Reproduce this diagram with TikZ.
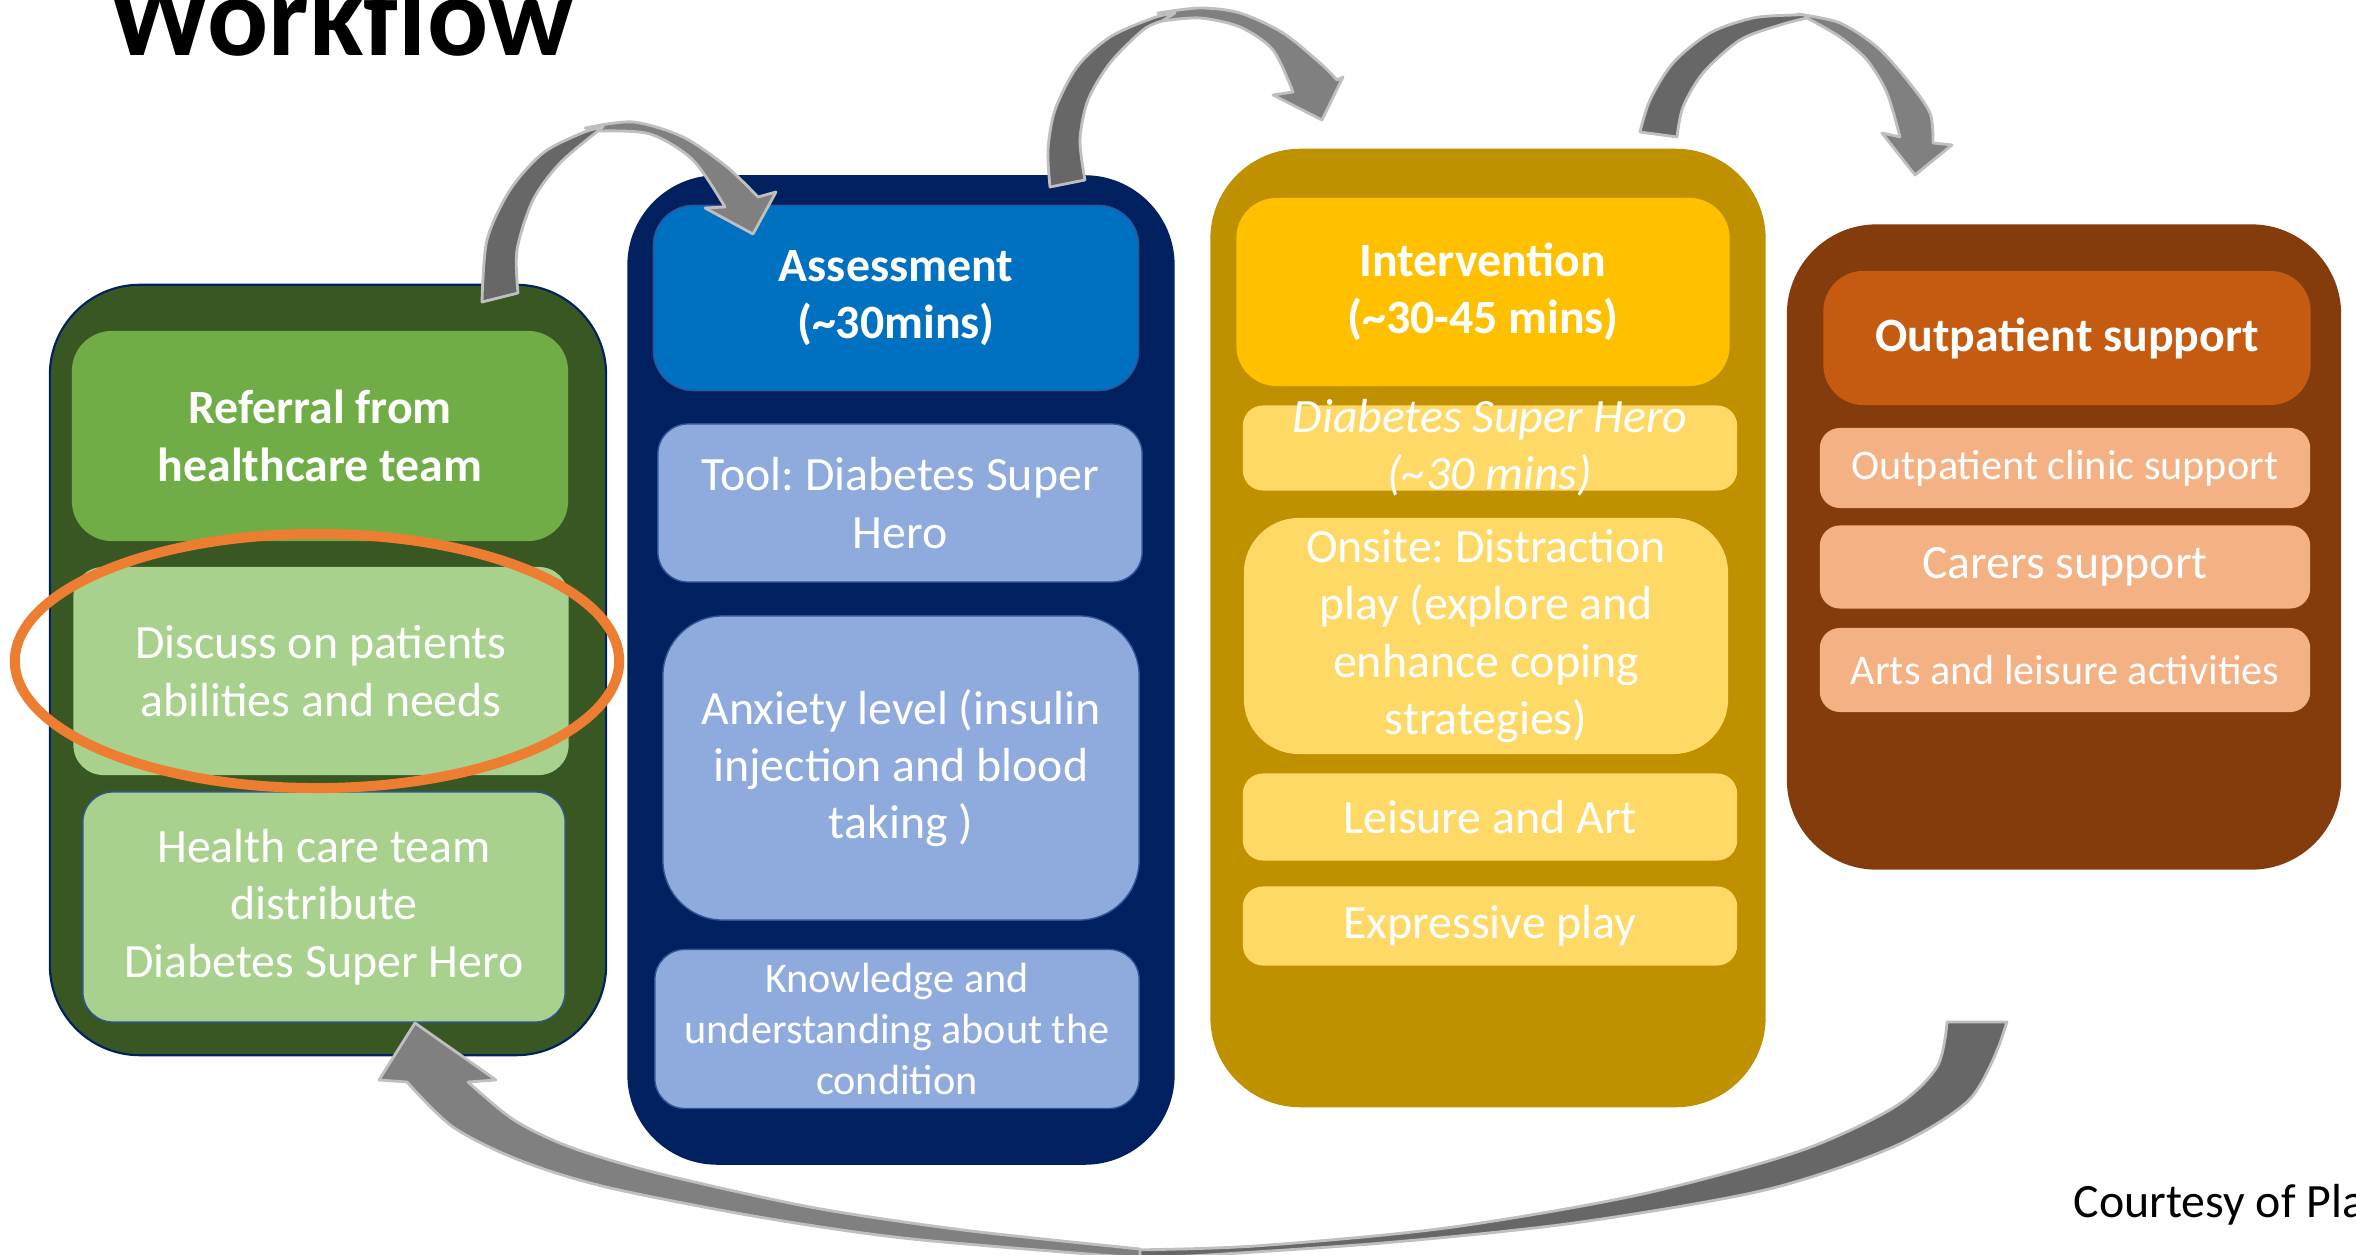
\documentclass[tikz,border=0pt]{standalone}
\usepackage{fontspec}
\setmainfont{Carlito}
\usepackage{tikz}
\usetikzlibrary{shapes.geometric}
\definecolor{leafdark}{HTML}{385723}
\definecolor{leafmid}{HTML}{70AD47}
\definecolor{leaflight}{HTML}{A9D18E}
\definecolor{navy}{HTML}{002060}
\definecolor{oceanmid}{HTML}{0070C0}
\definecolor{oceanlight}{HTML}{8FAADC}
\definecolor{edgeblue}{HTML}{2F5597}
\definecolor{golddark}{HTML}{BF9000}
\definecolor{goldmid}{HTML}{FFC000}
\definecolor{goldlight}{HTML}{FFD966}
\definecolor{rustdark}{HTML}{843C0C}
\definecolor{rustmid}{HTML}{C55A11}
\definecolor{rustlight}{HTML}{F4B183}
\definecolor{ringorange}{HTML}{ED7D31}
\definecolor{arrowdark}{HTML}{676767}
\definecolor{arrowlight}{HTML}{808080}
\definecolor{arrowedge}{HTML}{BFBFBF}
\newcommand{\bodysize}{\fontsize{13.6}{16.3}\selectfont}
\newcommand{\smallsize}{\fontsize{12}{14.6}\selectfont}
\frenchspacing

\begin{document}
\begin{tikzpicture}[x=0.01cm, y=-0.01cm,
    every node/.style={text=white, align=center, inner sep=0pt, font=\bodysize},
    colbox/.style={rounded corners=0.9cm},
    headbox/.style={rounded corners=0.4cm, font=\bfseries\bodysize},
    itembox/.style={rounded corners=0.3cm},
    ringmark/.style={ellipse, draw=ringorange, line width=0.1cm},
    arrowback/.style={fill=arrowdark, draw=arrowedge, line width=0.8pt, line join=round},
    arrowfront/.style={fill=arrowlight, draw=arrowedge, line width=0.8pt, line join=round}]
    \useasboundingbox (0,0) rectangle (2356,1255);
    \clip (0,0) rectangle (2356,1255);

    \node[anchor=base west, text=black, font=\bfseries\fontsize{32.4}{38}\selectfont] (title) at (108,56) {Workflow};
    \node[anchor=base west, text=black] (credit) at (2073,1218) {Courtesy of Pla};

    % referral column
    \node[colbox, fill=leafdark, draw=navy, line width=0.6pt, minimum width=5.56cm, minimum height=7.70cm] (colref) at (328,670) {};
    \node[headbox, fill=leafmid, minimum width=4.96cm, minimum height=2.10cm] (refer) at (320,436) {Referral from\\healthcare team};
    \node[itembox, fill=leaflight, minimum width=4.95cm, minimum height=2.08cm] (discuss) at (321,671) {Discuss on patients\\abilities and needs};
    \node[itembox, fill=leaflight, draw=edgeblue, minimum width=4.82cm, minimum height=2.30cm] (distrib) at (324,907) {Health care team\\distribute\\Diabetes Super Hero};
    \node[ringmark, minimum width=6.04cm, minimum height=2.54cm] (focus) at (317,661) {};

    % assessment column
    \node[colbox, fill=navy, minimum width=5.47cm, minimum height=9.89cm] (colassess) at (901,670) {};
    \node[headbox, fill=oceanmid, draw=edgeblue, minimum width=4.85cm, minimum height=1.85cm] (assess) at (896,298) {Assessment\\(\textasciitilde30mins)};
    \node[itembox, fill=oceanlight, draw=edgeblue, minimum width=4.84cm, minimum height=1.58cm] (tool) at (900,503) {Tool: Diabetes Super\\Hero};
    \node[itembox, rounded corners=0.6cm, fill=oceanlight, draw=edgeblue, minimum width=4.76cm, minimum height=3.04cm] (anxiety) at (901,768) {Anxiety level (insulin\\injection and blood\\taking )};
    \node[itembox, fill=oceanlight, draw=edgeblue, minimum width=4.84cm, minimum height=1.59cm, font=\smallsize] (knowledge) at (897,1029) {Knowledge and\\understanding about the\\condition};

    % intervention column
    \node[colbox, fill=golddark, minimum width=5.55cm, minimum height=9.58cm] (colinterv) at (1488,628) {};
    \node[headbox, fill=goldmid, minimum width=4.93cm, minimum height=1.88cm] (interv) at (1483,292) {Intervention\\(\textasciitilde30-45 mins)};
    \node[itembox, rounded corners=0.2cm, fill=goldlight, minimum width=4.94cm, minimum height=0.85cm] (dsh) at (1490,448) {};
    \node[font=\itshape\bodysize] (dshtext) at (dsh) {Diabetes Super Hero\\(\textasciitilde30 mins)};
    \node[itembox, rounded corners=0.55cm, fill=goldlight, minimum width=4.84cm, minimum height=2.36cm] (onsite) at (1486,636) {Onsite: Distraction\\play (explore and\\enhance coping\\strategies)};
    \node[itembox, rounded corners=0.2cm, fill=goldlight, minimum width=4.94cm, minimum height=0.87cm] (leisure) at (1490,817) {Leisure and Art};
    \node[itembox, rounded corners=0.2cm, fill=goldlight, minimum width=4.94cm, minimum height=0.79cm] (express) at (1490,926) {Expressive play};

    % outpatient column
    \node[colbox, fill=rustdark, minimum width=5.54cm, minimum height=6.45cm] (colout) at (2064,547) {};
    \node[headbox, fill=rustmid, minimum width=4.87cm, minimum height=1.34cm] (outpat) at (2067,338) {Outpatient support};
    \node[itembox, rounded corners=0.2cm, fill=rustlight, minimum width=4.90cm, minimum height=0.80cm, font=\smallsize] (clinic) at (2065,468) {Outpatient clinic support};
    \node[itembox, rounded corners=0.2cm, fill=rustlight, minimum width=4.90cm, minimum height=0.83cm] (carers) at (2065,567) {Carers support};
    \node[itembox, rounded corners=0.2cm, fill=rustlight, minimum width=4.90cm, minimum height=0.84cm, font=\smallsize] (arts) at (2065,670) {Arts and leisure activities};

    % curved arrows over the tops
    \filldraw[arrowfront] plot[smooth] coordinates {(585,128) (633,122) (683,137) (727,167) (758,197)} -- (776,192) -- (753,234) -- (705,208) -- plot[smooth] coordinates {(725,207) (693,160) (650,134) (600,131)} -- cycle;
    \filldraw[arrowback] plot[smooth] coordinates {(482,302) (487,240) (510,190) (543,153) (582,133) (603,127)} -- plot[smooth] coordinates {(598,131) (560,163) (533,200) (517,250) (518,293)} -- cycle;

    \filldraw[arrowfront] plot[smooth] coordinates {(1158,13) (1200,8) (1240,13) (1283,33) (1320,63) (1337,80)} -- (1343,77) -- (1322,120) -- (1273,95) -- plot[smooth] coordinates {(1293,92) (1273,50) (1240,27) (1200,18) (1162,21)} -- cycle;
    \filldraw[arrowback] plot[smooth] coordinates {(1050,187) (1048,150) (1055,110) (1077,67) (1110,37) (1153,18) (1175,13)} -- plot[smooth] coordinates {(1162,21) (1143,30) (1110,63) (1088,100) (1080,140) (1085,180)} -- cycle;

    \filldraw[arrowfront] plot[smooth] coordinates {(1798,14) (1840,23) (1877,47) (1907,80) (1930,113) (1933,143)} -- (1952,145) -- (1915,175) -- (1882,133) -- plot[smooth] coordinates {(1900,137) (1887,93) (1867,60) (1840,37) (1807,18)} -- cycle;
    \filldraw[arrowback] plot[smooth] coordinates {(1640,132) (1650,100) (1673,63) (1710,33) (1753,18) (1793,15) (1805,15)} -- plot[smooth] coordinates {(1807,18) (1780,25) (1740,40) (1703,73) (1683,107) (1677,137)} -- cycle;

    % return arrow along the bottom
    \filldraw[arrowback] plot[smooth] coordinates {(1128,1250) (1255,1246) (1446,1228) (1638,1195) (1797,1152) (1893,1108) (1937,1067) (1947,1022)} -- (2007,1022) -- plot[smooth] coordinates {(2000,1043) (1969,1100) (1893,1147) (1765,1190) (1574,1223) (1383,1243) (1191,1256)} -- (1128,1258) -- cycle;
    \filldraw[arrowfront] plot[smooth] coordinates {(1140,1258) (912,1239) (759,1217) (606,1187) (519,1160) (453,1127) (407,1082)} -- (379,1080) -- (415,1023) -- (496,1080) -- plot[smooth] coordinates {(468,1082) (514,1120) (570,1147) (657,1173) (810,1207) (963,1230) (1140,1249)} -- cycle;
\end{tikzpicture}
\end{document}
